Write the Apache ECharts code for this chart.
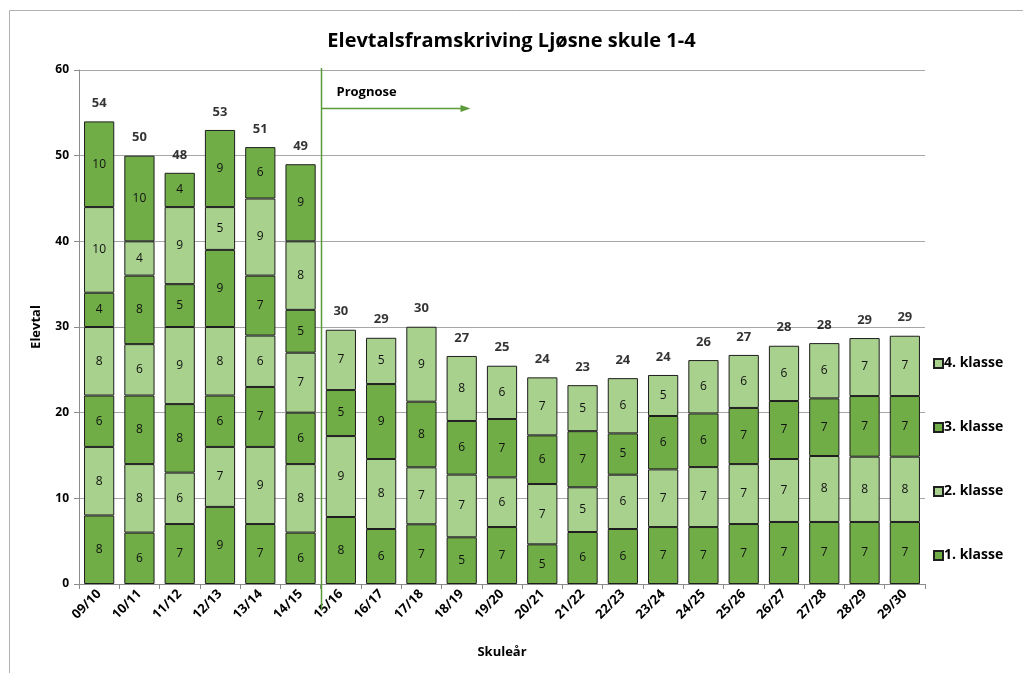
<!DOCTYPE html>
<html>
<head>
<meta charset="utf-8">
<script src="https://cdn.jsdelivr.net/npm/echarts@6/dist/echarts.min.js"></script>
<style>
html,body{margin:0;padding:0;background:#fff;}
#c{width:1023px;height:673px;}
</style>
</head>
<body>
<div id="c"></div>
<script>
const categories = ['09/10','10/11','11/12','12/13','13/14','14/15','15/16','16/17','17/18','18/19','19/20','20/21','21/22','22/23','23/24','24/25','25/26','26/27','27/28','28/29','29/30'];
const klasse1 = [8,6,7,9,7,6, 7.82,6.42,6.97,5.45,6.65,4.63,6.07,6.42,6.65,6.65,7.0,7.24,7.24,7.24,7.24];
const klasse2 = [8,8,6,7,9,8, 9.45,8.17,6.65,7.32,5.80,7.04,5.22,6.34,6.73,7.0,7.0,7.35,7.70,7.62,7.62];
const klasse3 = [6,8,8,6,7,6, 5.37,8.75,7.66,6.26,6.81,5.68,6.55,4.82,6.23,6.26,6.55,6.77,6.73,7.08,7.08];
const klasse4 = [8,6,9,8,6,7, 7.04,5.40,8.75,7.59,6.22,6.77,5.37,6.45,4.79,6.23,6.19,6.45,6.45,6.77,7.04];
const klasse5 = [4,8,5,9,7,5, null,null,null,null,null,null,null,null,null,null,null,null,null,null,null];
const klasse6 = [10,4,9,5,9,8, null,null,null,null,null,null,null,null,null,null,null,null,null,null,null];
const klasse7 = [10,10,4,9,6,9, null,null,null,null,null,null,null,null,null,null,null,null,null,null,null];
const seriesNames = ['1. klasse','2. klasse','3. klasse','4. klasse','5. klasse','6. klasse','7. klasse'];
const yTicks = [0,10,20,30,40,50,60];

const DARK = '#70AD47', LIGHT = '#A9D18E';
const FONT = 'Open Sans';
const allData = [klasse1,klasse2,klasse3,klasse4,klasse5,klasse6,klasse7];
const totals = categories.map((c,i)=>allData.reduce((s,a)=>s+(a[i]==null?0:a[i]),0));

const chart = echarts.init(document.getElementById('c'));
const barSeries = allData.map((d,k)=>({
  name: seriesNames[k],
  type: 'bar',
  stack: 'tot',
  data: d,
  barCategoryGap: '25%',
  itemStyle: {color: k%2===0?DARK:LIGHT, borderColor:'#1e1e1e', borderWidth:1},
  label: {show:true, position:'inside', fontFamily:FONT, fontSize:12, color:'#111',
          formatter: p => p.value==null ? '' : Math.round(p.value)},
  emphasis:{disabled:true},
  animation:false
}));
barSeries.push({
  name:'Total', type:'scatter', data: totals, symbolSize:1,
  itemStyle:{color:'rgba(0,0,0,0)'},
  label:{show:true, position:'top', distance:11, fontFamily:FONT, fontWeight:'bold', fontSize:13, color:'#000',
         formatter: p=>Math.round(p.value)},
  z:5, animation:false
});

chart.setOption({
  animation:false,
  textStyle:{fontFamily:FONT},
  title:{text:'Elevtalsframskriving Ljøsne skule 1-4', left:'center', top:26,
         textStyle:{fontFamily:FONT, fontWeight:'bold', fontSize:20, color:'#000'}},
  grid:{left:79, right:98, top:70, bottom:89},
  legend:{data:['4. klasse','3. klasse','2. klasse','1. klasse'], orient:'vertical', left:928, top:350,
          itemWidth:9, itemHeight:9, itemGap:47, icon:'rect',
          textStyle:{fontFamily:FONT, fontWeight:'bold', fontSize:14, color:'#000', lineHeight:17, padding:[0,0,0,-4]}},
  xAxis:{type:'category', data:categories, name:'Skuleår', nameLocation:'middle', nameGap:62,
         nameTextStyle:{fontFamily:FONT, fontWeight:'bold', fontSize:13, color:'#000'},
         axisLine:{lineStyle:{color:'#8c8c8c'}},
         axisTick:{show:true, alignWithLabel:false, length:5, lineStyle:{color:'#8c8c8c'}},
         axisLabel:{rotate:45, interval:0, fontFamily:FONT, fontWeight:'bold', fontSize:13, color:'#000', margin:8}},
  yAxis:{type:'value', min:yTicks[0], max:yTicks[yTicks.length-1], interval:10, name:'Elevtal', nameLocation:'middle', nameGap:36,
         nameTextStyle:{fontFamily:FONT, fontWeight:'bold', fontSize:13, color:'#000'},
         axisLine:{show:true, lineStyle:{color:'#8c8c8c'}},
         axisTick:{show:true, length:5, lineStyle:{color:'#8c8c8c'}},
         splitLine:{lineStyle:{color:'#a6a6a6'}},
         axisLabel:{fontFamily:FONT, fontWeight:'bold', fontSize:12, color:'#000', margin:10}},
  series: barSeries
});

const xa = chart.convertToPixel({xAxisIndex:0}, '14/15');
const xb = chart.convertToPixel({xAxisIndex:0}, '15/16');
const xLine = Math.round((xa+xb)/2)+0.5;
const yTop = chart.convertToPixel({yAxisIndex:0}, 60);
const yArrow = chart.convertToPixel({yAxisIndex:0}, 55.6);
const GREEN = '#5B9B3A';
const ya = Math.round(yArrow)+0.5;
chart.setOption({
  graphic:[
    {type:'rect', shape:{x:9.5, y:10.5, width:1200, height:900}, style:{fill:null, stroke:'#b0b0b0', lineWidth:1}, silent:true, z:-10},
    {type:'line', shape:{x1:xLine, y1:yTop-2, x2:xLine, y2:610}, style:{stroke:GREEN, lineWidth:1.5}, z:100},
    {type:'line', shape:{x1:xLine, y1:ya, x2:xLine+140, y2:ya}, style:{stroke:GREEN, lineWidth:1.5}, z:100},
    {type:'polygon', shape:{points:[[xLine+139,ya-3.5],[xLine+149,ya],[xLine+139,ya+3.5]]}, style:{fill:GREEN}, z:100},
    {type:'text', left:xLine+15, top:ya-23, style:{text:'Prognose', font:'bold 13px "Open Sans"', fill:'#000'}, z:100}
  ]
});
</script>
</body>
</html>
